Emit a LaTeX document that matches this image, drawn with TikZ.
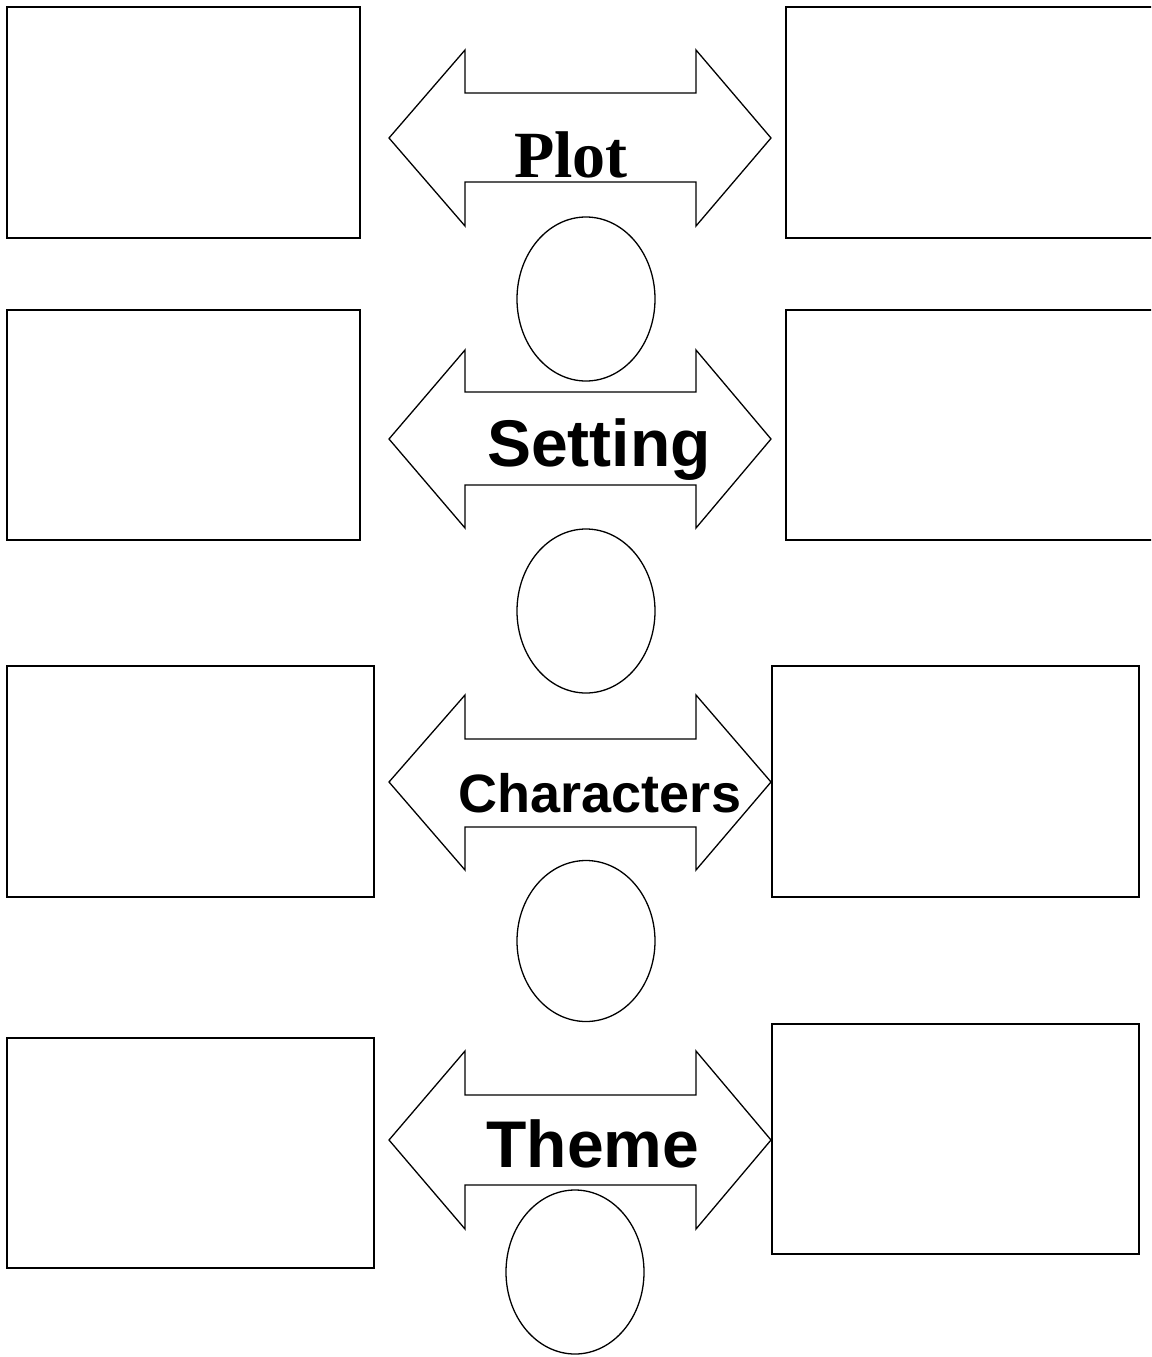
\documentclass[tikz,border=0pt]{standalone}
\usepackage{fontspec}
\setmainfont{Liberation Serif}
\newfontfamily\labelsans{Liberation Sans}
\usetikzlibrary{shapes.geometric}
\tikzset{
  box/.style={draw, line width=1.5pt},
  twoway/.style={draw, line width=1.3pt, line join=miter},
  oval/.style={draw, ellipse, line width=1.3pt, fill=white, inner sep=0pt},
  sanslabel/.style={anchor=base, inner sep=0pt, font=\labelsans\bfseries\fontsize{#1}{#1}\selectfont},
  seriflabel/.style={anchor=base, inner sep=0pt, font=\bfseries\fontsize{#1}{#1}\selectfont},
}
% double-headed block arrow: #1 = tip height, #2/#3 = shaft top/bottom, #4/#5 = head top/bottom
\newcommand{\twowayarrow}[5]{%
  \draw[twoway] (389,#1) -- (465,#4) -- (465,#2) -- (696,#2) -- (696,#4)
    -- (771,#1) -- (696,#5) -- (696,#3) -- (465,#3) -- (465,#5) -- cycle;}
\begin{document}
\begin{tikzpicture}[x=1pt, y=-1pt]
  \useasboundingbox (0,0) rectangle (1151,1357);
  \begin{scope}
    \clip (0,0) rectangle (1151,1357);
    % left and right boxes
    \draw[box] (7,7) rectangle (360,238);
    \draw[box] (786,7) rectangle (1160,238);
    \draw[box] (7,310) rectangle (360,540);
    \draw[box] (786,310) rectangle (1160,540);
    \draw[box] (7,666) rectangle (374,897);
    \draw[box] (772,666) rectangle (1139,897);
    \draw[box] (7,1038) rectangle (374,1268);
    \draw[box] (772,1024) rectangle (1139,1254);
  \end{scope}
  % arrows
  \twowayarrow{138}{93}{182}{50}{226}
  \twowayarrow{439}{392}{485}{350}{528}
  \twowayarrow{782}{739}{827}{695}{870}
  \twowayarrow{1140}{1095}{1185}{1051}{1229}
  % ovals
  \node[oval, minimum width=138pt, minimum height=164pt] (o1) at (586,299) {};
  \node[oval, minimum width=138pt, minimum height=164pt] (o2) at (586,611) {};
  \node[oval, minimum width=138pt, minimum height=161pt] (o3) at (586,941) {};
  \node[oval, minimum width=138pt, minimum height=164pt] (o4) at (575,1272) {};
  % labels
  \node[seriflabel=66] (plot) at (571,177) {Plot};
  \node[sanslabel=66] (setting) at (599,466) {Setting};
  \node[sanslabel=54] (characters) at (600,812) {Characters};
  \node[sanslabel=66] (theme) at (593,1167) {Theme};
\end{tikzpicture}
\end{document}
